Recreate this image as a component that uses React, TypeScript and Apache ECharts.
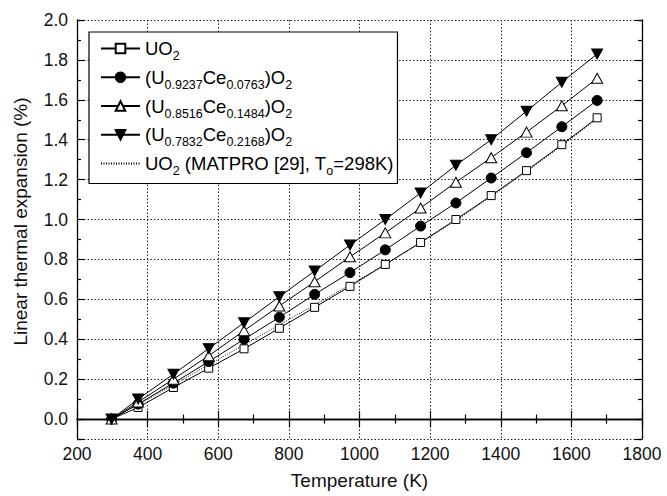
import React, { useEffect, useRef } from "react";
import * as echarts from "echarts";

// ---- data ----
const temperatures = [298, 373, 473, 573, 673, 773, 873, 973, 1073, 1173, 1273, 1373, 1473, 1573, 1673];
const uo2 = [0.0, 0.058, 0.158, 0.255, 0.352, 0.455, 0.56, 0.665, 0.775, 0.885, 1.0, 1.12, 1.245, 1.375, 1.51];
const ce0763 = [0.0, 0.075, 0.18, 0.288, 0.4, 0.51, 0.625, 0.734, 0.848, 0.967, 1.083, 1.208, 1.335, 1.465, 1.597];
const ce1484 = [0.0, 0.085, 0.2, 0.317, 0.443, 0.567, 0.688, 0.813, 0.933, 1.058, 1.187, 1.31, 1.438, 1.57, 1.708];
const ce2168 = [0.0, 0.1, 0.225, 0.353, 0.483, 0.613, 0.742, 0.872, 1.0, 1.133, 1.272, 1.4, 1.543, 1.688, 1.83];
const matpro = [0.0, 0.072, 0.172, 0.272, 0.372, 0.472, 0.572, 0.672, 0.775, 0.883, 0.995, 1.115, 1.24, 1.37, 1.505];

const seriesNames = [
  "UO2",
  "(U0.9237Ce0.0763)O2",
  "(U0.8516Ce0.1484)O2",
  "(U0.7832Ce0.2168)O2",
  "UO2 (MATPRO [29], To=298K)",
];
const legendLabels: Record<string, string> = {
  "UO2": "{n|UO}{s|2}",
  "(U0.9237Ce0.0763)O2": "{n|(U}{s|0.9237}{n|Ce}{s|0.0763}{n|)O}{s|2}",
  "(U0.8516Ce0.1484)O2": "{n|(U}{s|0.8516}{n|Ce}{s|0.1484}{n|)O}{s|2}",
  "(U0.7832Ce0.2168)O2": "{n|(U}{s|0.7832}{n|Ce}{s|0.2168}{n|)O}{s|2}",
  "UO2 (MATPRO [29], To=298K)": "{n|UO}{s|2}{n| (MATPRO [29], T}{s|o}{n|=298K)}",
};

const xTitle = "Temperature (K)";
const yTitle = "Linear thermal expansion (%)";

const FONT = '"Liberation Sans", Arial, Helvetica, sans-serif';

function pairs(values: number[]) {
  return temperatures.map((t, i) => [t, values[i]]);
}

export default function App() {
  const ref = useRef<HTMLDivElement>(null);
  useEffect(() => {
    if (!ref.current) return;
    const chart = echarts.init(ref.current, null, { renderer: "svg" });
    const axisLine = { show: true, lineStyle: { color: "#000", width: 1.3 } };
    const grid = { left: 77, right: 25, top: 20, bottom: 57, containLabel: false };
    const symbolBase = { itemStyle: { color: "#fff", borderColor: "#000", borderWidth: 1 } };
    const lineStyle = { color: "#000", width: 1 };
    chart.setOption({
      animation: false,
      backgroundColor: "#fff",
      textStyle: { fontFamily: FONT },
      grid,
      legend: {
        orient: "vertical",
        left: 89,
        top: 32,
        padding: [7, 4, 6, 11],
        itemGap: 5.25,
        itemWidth: 39,
        itemHeight: 12,
        backgroundColor: "#fff",
        borderColor: "#000",
        borderWidth: 1.2,
        borderRadius: 0,
        data: [
          seriesNames[0],
          seriesNames[1],
          seriesNames[2],
          seriesNames[3],
          { name: seriesNames[4], itemStyle: { opacity: 0 } },
        ],
        formatter: (name: string) => legendLabels[name] || name,
        textStyle: {
          color: "#000",
          fontFamily: FONT,
          fontSize: 18.5,
          rich: {
            n: { fontSize: 18.5, lineHeight: 28, fontFamily: FONT, color: "#000" },
            s: { fontSize: 12.5, lineHeight: 6, verticalAlign: "bottom", fontFamily: FONT, color: "#000" },
          },
        },
      },
      xAxis: [
        {
          type: "value",
          position: "bottom",
          min: 200,
          max: 1800,
          interval: 200,
          axisLine,
          axisTick: { show: true, inside: true, length: 8, lineStyle: { color: "#000", width: 1.2 } },
          minorTick: { show: true, splitNumber: 2, length: 4.5, lineStyle: { color: "#000", width: 1.2 } },
          axisLabel: { color: "#111", fontSize: 17.5, fontFamily: FONT, margin: 6, formatter: (v: number) => String(v) },
          splitLine: { show: true, lineStyle: { color: "#222", width: 1, type: [1.5, 2] } },
          name: xTitle,
          nameLocation: "middle",
          nameGap: 32,
          nameTextStyle: { color: "#111", fontSize: 19, fontFamily: FONT },
        },
        {
          type: "value",
          position: "top",
          min: 200,
          max: 1800,
          interval: 200,
          axisLine,
          axisTick: { show: true, inside: true, length: 8, lineStyle: { color: "#000", width: 1.2 } },
          minorTick: { show: true, splitNumber: 2, length: 4.5, lineStyle: { color: "#000", width: 1.2 } },
          axisLabel: { show: false },
          splitLine: { show: false },
        },
      ],
      yAxis: [
        {
          type: "value",
          position: "left",
          min: -0.1,
          max: 2.0,
          splitNumber: 10,
          axisLine,
          axisTick: { show: true, inside: true, length: 7, lineStyle: { color: "#000", width: 1.2 } },
          axisLabel: {
            color: "#111",
            fontSize: 17.5,
            fontFamily: FONT,
            margin: 9,
            formatter: (v: number) => (v < -0.05 ? "" : v.toFixed(1)),
          },
          splitLine: { show: true, lineStyle: { color: "#222", width: 1, type: [1.5, 2] } },
          name: yTitle,
          nameLocation: "middle",
          nameGap: 47,
          nameTextStyle: { color: "#111", fontSize: 19, fontFamily: FONT, padding: [0, 0, 0, 16] },
        },
        {
          type: "value",
          position: "left",
          min: -0.1,
          max: 2.0,
          interval: 0.2,
          axisLine: { show: false },
          axisTick: { show: true, inside: true, length: 4, lineStyle: { color: "#000", width: 1.2 } },
          axisLabel: { show: false },
          splitLine: { show: false },
        },
        {
          type: "value",
          position: "right",
          min: -0.1,
          max: 2.0,
          splitNumber: 10,
          axisLine,
          axisTick: { show: true, inside: true, length: 7, lineStyle: { color: "#000", width: 1.2 } },
          axisLabel: { show: false },
          splitLine: { show: false },
        },
        {
          type: "value",
          position: "right",
          min: -0.1,
          max: 2.0,
          interval: 0.2,
          axisLine: { show: false },
          axisTick: { show: true, inside: true, length: 4, lineStyle: { color: "#000", width: 1.2 } },
          axisLabel: { show: false },
          splitLine: { show: false },
        },
      ],
      series: [
        {
          name: seriesNames[0],
          type: "line",
          data: pairs(uo2),
          symbol: "rect",
          symbolSize: 8,
          lineStyle,
          ...symbolBase,
          z: 5,
        },
        {
          name: seriesNames[1],
          type: "line",
          data: pairs(ce0763),
          symbol: "circle",
          symbolSize: 10,
          lineStyle,
          itemStyle: { color: "#000", borderColor: "#000", borderWidth: 1 },
          z: 5,
        },
        {
          name: seriesNames[2],
          type: "line",
          data: pairs(ce1484),
          symbol: "triangle",
          symbolSize: [11, 10],
          lineStyle,
          ...symbolBase,
          z: 5,
        },
        {
          name: seriesNames[3],
          type: "line",
          data: pairs(ce2168),
          symbol: "triangle",
          symbolRotate: 180,
          symbolSize: [11, 10],
          lineStyle,
          itemStyle: { color: "#000", borderColor: "#000", borderWidth: 1 },
          z: 5,
        },
        {
          name: seriesNames[4],
          type: "line",
          data: pairs(matpro),
          symbol: "none",
          showSymbol: false,
          itemStyle: { color: "#000" },
          lineStyle: { color: "#000", width: 1, type: [1, 1.5] },
          z: 4,
        },
      ],
    });
    return () => chart.dispose();
  }, []);
  return (
    <div
      ref={ref}
      style={{ position: "absolute", left: 0, top: 0, width: 667, height: 496, background: "#fff" }}
    />
  );
}
